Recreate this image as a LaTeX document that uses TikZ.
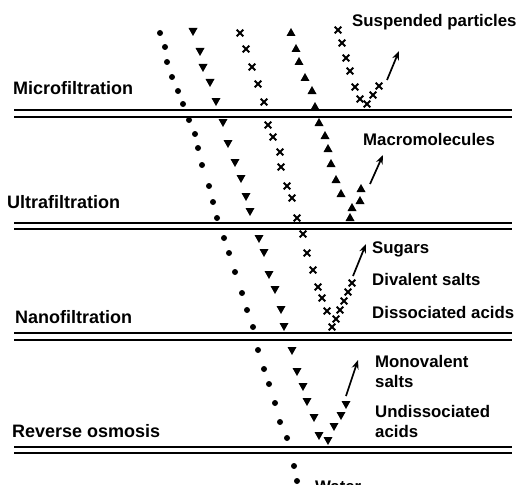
\documentclass[tikz,border=0pt]{standalone}
\usepackage{fontspec}
\setmainfont{Liberation Sans}
\usetikzlibrary{arrows.meta}
\newcommand{\pdot}[2]{\fill (#1,#2) circle (3pt);}
\newcommand{\ptridown}[2]{\fill ({#1-4.5},{#2-4}) -- ({#1+4.5},{#2-4}) -- (#1,{#2+4}) -- cycle;}
\newcommand{\ptriup}[2]{\fill ({#1-4.5},{#2+4}) -- ({#1+4.5},{#2+4}) -- (#1,{#2-4}) -- cycle;}
\newcommand{\pcross}[2]{\draw[line width=2pt] ({#1-3.3},{#2-3.3}) -- ({#1+3.3},{#2+3.3}) ({#1-3.3},{#2+3.3}) -- ({#1+3.3},{#2-3.3});}
\begin{document}
\begin{tikzpicture}[x=1pt,y=-1pt,
  membrane/.style={line width=2pt},
  lefttext/.style={anchor=base west,inner sep=0pt,font=\bfseries\fontsize{18}{20}\selectfont},
  righttext/.style={anchor=base west,inner sep=0pt,align=left,font=\bfseries\fontsize{16.8}{20}\selectfont},
  arr/.style={line width=1.7pt,-{Stealth[length=9pt,width=7pt]}}]
\useasboundingbox (0,0) rectangle (518,484);
\clip (0,0) rectangle (518,484);
% membranes
\foreach \ya/\yb in {110/117,223/229,333/340,447/453}{
  \draw[membrane] (14,\ya) -- (512,\ya);
  \draw[membrane] (14,\yb) -- (512,\yb);
}
% left labels
\node[lefttext] (mf) at (13,95) {Microfiltration};
\node[lefttext] (uf) at (7,208) {Ultrafiltration};
\node[lefttext] (nf) at (15,323) {Nanofiltration};
\node[lefttext] (ro) at (12,437) {Reverse osmosis};
% right labels
\node[righttext] (sp) at (352,27) {Suspended particles};
\node[righttext] (mm) at (363,145) {Macromolecules};
\node[righttext] (su) at (372,253) {Sugars};
\node[righttext] (dv) at (372,285) {Divalent salts};
\node[righttext] (da) at (372,318) {Dissociated acids};
\node[righttext] (mv) at (375,387) {Monovalent\\salts};
\node[righttext] (ua) at (375,437) {Undissociated\\acids};
\node[righttext] (wa) at (315,492) {Water};
% water (dots)
\foreach \x/\y in {160/33,165/47,167/62,172/77,178/91,183/104,189/120,195/134,198/148,202/165,209/186,213/202,217/218,224/238,229/253,235/272,242/293,247/310,253/327,258/350,264/369,269/384,275/403,280/422,287/438,294/466,297/481}{\pdot{\x}{\y}}
% monovalent salts (down triangles)
\foreach \x/\y in {193/32,200/52,203/68,210/83,216/102,223/123,228/144,235/163,241/179,246/197,250/212,259/239,264/253,269/275,275/290,281/310,284/327,292/351,297/372,303/387,307/402,314/418,319/436,328/441,334/427,341/416,346/405}{\ptridown{\x}{\y}}
% sugars etc. (crosses)
\foreach \x/\y in {240/33,246/49,252/67,258/84,264/102,268/125,273/137,280/152,281/167,287/186,292/198,297/218,303/234,307/253,313/270,318/287,322/298,327/311,332/327,336/319,340/310,344/301,348/292,352/283}{\pcross{\x}{\y}}
% macromolecules (up triangles)
\foreach \x/\y in {291/32,296/48,299/61,305/77,312/90,315/106,319/122,325/135,328/148,331/163,336/179,341/193,350/217,352/207,360/200,361/188}{\ptriup{\x}{\y}}
% suspended particles (crosses)
\foreach \x/\y in {338/30,342/43,346/58,350/71,355/87,360/99,367/104,373/95,379/86}{\pcross{\x}{\y}}
% arrows
\coordinate (a1s) at (387,80); \coordinate (a1e) at (399,51);
\coordinate (a2s) at (370,184); \coordinate (a2e) at (383,155);
\coordinate (a3s) at (353,276); \coordinate (a3e) at (366,244);
\coordinate (a4s) at (346,396); \coordinate (a4e) at (358,360);
\draw[arr] (a1s) -- (a1e);
\draw[arr] (a2s) -- (a2e);
\draw[arr] (a3s) -- (a3e);
\draw[arr] (a4s) -- (a4e);
\end{tikzpicture}
\end{document}
